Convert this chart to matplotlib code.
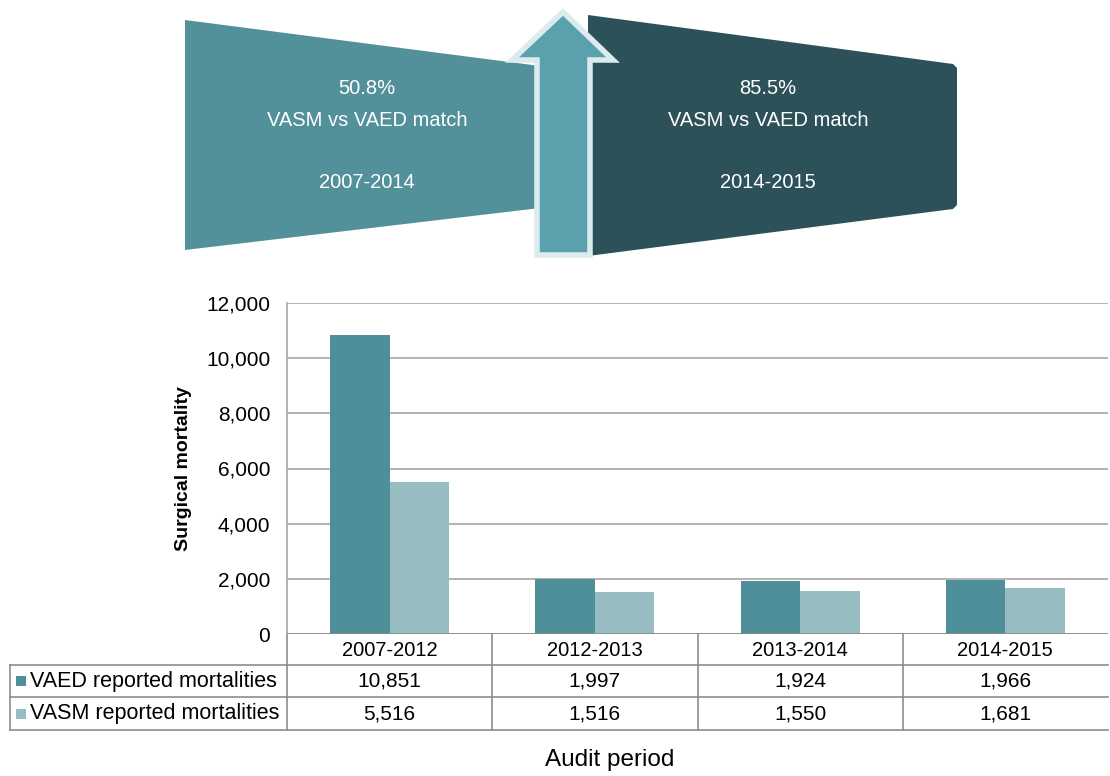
import matplotlib.pyplot as plt
from matplotlib.patches import Polygon
import numpy as np

# Datos
periods = ['2007-2012', '2012-2013', '2013-2014', '2014-2015']
vaed = [10851, 1997, 1924, 1966]
vasm = [5516, 1516, 1550, 1681]
series_names = ['VAED reported mortalities', 'VASM reported mortalities']
yticks = [0, 2000, 4000, 6000, 8000, 10000, 12000]
banner_left = ['50.8%', 'VASM vs VAED match', '2007-2014']
banner_right = ['85.5%', 'VASM vs VAED match', '2014-2015']

dark = '#4f8f99'
light = '#97bcc2'
deep = '#2c5158'
arrow_fill = '#5ba1ad'
arrow_edge = '#dcebee'
grid_c = '#a6a6a6'
fam = ['Liberation Sans', 'DejaVu Sans']

W, H = 1110, 776
fig = plt.figure(figsize=(W / 100, H / 100), dpi=100)

# Capa de dibujo en pixeles
ov = fig.add_axes([0, 0, 1, 1])
ov.set_xlim(0, W)
ov.set_ylim(H, 0)
ov.axis('off')
ov.patch.set_visible(False)

# Banner superior
ov.add_patch(Polygon([(185, 20), (540, 66), (540, 208), (185, 250)], closed=True,
                     facecolor='#52909a', edgecolor='none'))
ov.add_patch(Polygon([(588, 15), (953, 64), (957, 68), (957, 205), (953, 209), (588, 256)],
                     closed=True, facecolor=deep, edgecolor='none'))
ov.add_patch(Polygon([(563, 12), (613, 60), (590, 60), (590, 255), (537, 255),
                      (537, 60), (512, 60)], closed=True, facecolor=arrow_fill,
                     edgecolor=arrow_edge, linewidth=4, joinstyle='miter'))
for txt, yy in zip(banner_left, [88, 120, 182]):
    ov.text(367, yy, txt, color='white', ha='center', va='center', fontsize=14.5, family=fam)
for txt, yy in zip(banner_right, [88, 120, 182]):
    ov.text(768, yy, txt, color='white', ha='center', va='center', fontsize=14.5, family=fam)

# Grafico de barras
x0, x1, ytop, ybot = 287, 1108, 303, 634
ax = fig.add_axes([x0 / W, 1 - ybot / H, (x1 - x0) / W, (ybot - ytop) / H])
x = np.arange(len(periods))
bw = 0.29
ax.bar(x - bw / 2, vaed, bw, color=dark, zorder=3)
ax.bar(x + bw / 2, vasm, bw, color=light, zorder=3)
ax.set_xlim(-0.5, len(periods) - 0.5)
ax.set_ylim(0, 12000)
ax.set_yticks(yticks)
ax.set_yticklabels([f'{v:,}' for v in yticks], family=fam, fontsize=15)
ax.set_xticks([])
ax.yaxis.grid(True, color=grid_c, linewidth=1.2, zorder=0)
for s in ['top', 'right', 'bottom']:
    ax.spines[s].set_visible(False)
ax.spines['left'].set_color(grid_c)
ax.spines['left'].set_linewidth(1.2)
ax.tick_params(axis='y', length=0, pad=12)
ax.axhline(0, color='#8c8c8c', linewidth=2, zorder=4)
ax.set_ylabel('Surgical mortality', fontsize=14, fontweight='bold', family=fam, labelpad=10)

# Tabla de datos
bounds = [x0 + (x1 - x0) * k / len(periods) for k in range(len(periods) + 1)]
row_y = [634, 665, 697, 730]
lc = '#8c8c8c'
ov.plot([x0, x0], [ybot, row_y[-1]], color=lc, lw=1.2)
for b in bounds[1:-1]:
    ov.plot([b, b], [ybot, row_y[-1]], color=lc, lw=1.2)
ov.plot([10, 10], [row_y[1], row_y[-1]], color=lc, lw=1.2)
for yy in row_y[1:]:
    ov.plot([10, x1], [yy, yy], color=lc, lw=1.2)

centers = [(bounds[k] + bounds[k + 1]) / 2 for k in range(len(periods))]
for c, p in zip(centers, periods):
    ov.text(c, (row_y[0] + row_y[1]) / 2 + 1, p, ha='center', va='center', fontsize=14.5, family=fam)
for r, (name, vals, col) in enumerate(zip(series_names, [vaed, vasm], [dark, light])):
    ym = (row_y[r + 1] + row_y[r + 2]) / 2
    ov.add_patch(plt.Rectangle((16, ym - 5), 10, 10, facecolor=col, edgecolor='none'))
    ov.text(30, ym, name, ha='left', va='center', fontsize=15.5, family=fam)
    for c, v in zip(centers, vals):
        ov.text(c, ym, f'{v:,}', ha='center', va='center', fontsize=15, family=fam)

ov.text(610, 760, 'Audit period', ha='center', va='center', fontsize=17.5, family=fam)

fig.savefig('out.png', dpi=100)
